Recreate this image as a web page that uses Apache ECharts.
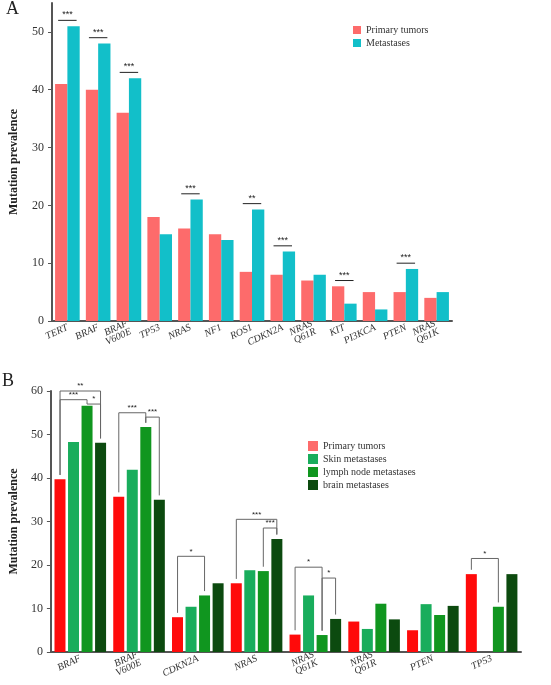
<!DOCTYPE html>
<html><head><meta charset="utf-8">
<script src="https://cdn.jsdelivr.net/npm/echarts@6/dist/echarts.min.js"></script>
<style>html,body{margin:0;background:#fff}#c{width:551px;height:685px}</style>
</head><body><div id="c"></div>
<script>
// panel A
var catsA = ['TERT','BRAF','BRAF\nV600E','TP53','NRAS','NF1','ROS1','CDKN2A','NRAS\nQ61R','KIT','PI3KCA','PTEN','NRAS\nQ61K'];
var primaryA = [41,40,36,18,16,15,8.5,8,7,6,5,5,4];
var metA = [51,48,42,15,21,14,19.3,12,8,3,2,9,5];
// [category index, star label]
var sigA = [[0,'***'],[1,'***'],[2,'***'],[4,'***'],[6,'**'],[7,'***'],[9,'***'],[11,'***']];

// panel B
var catsB = ['BRAF','BRAF\nV600E','CDKN2A','NRAS','NRAS\nQ61K','NRAS\nQ61R','PTEN','TP53'];
var primaryB = [39.7,35.7,8,15.8,4,7,5,17.9];
var skinB = [48.3,41.9,10.4,18.8,13,5.3,11,null];
var lymphB = [56.6,51.7,13,18.6,3.9,11.1,8.5,10.4];
var brainB = [48.1,35,15.8,26,7.6,7.5,10.6,17.9];
// [category, from series, to series, bracket top, label]
var sigB = [[0,0,3,60,'**'],[0,0,2,58,'***'],[0,2,3,57,'*'],[1,0,2,55,'***'],[1,2,3,54,'***'],
  [2,0,2,22,'*'],[3,0,3,30.5,'***'],[3,2,3,28.5,'***'],[4,0,2,19.5,'*'],[4,2,3,17,'*'],[7,0,2,21.5,'*']];

var seriesB = [primaryB, skinB, lymphB, brainB];
var font = 'Liberation Serif';
var barW = 11, step = 13.5;

function axisStyle(){ return {lineStyle:{color:'#555',width:2}}; }

var chart = echarts.init(document.getElementById('c'));
chart.setOption({
  textStyle:{fontFamily:font},
  animation:false,
  graphic:[
    {type:'text',left:6,top:0,style:{text:'A',font:'18px "Liberation Serif"',fill:'#222'}},
    {type:'text',left:2,top:372,style:{text:'B',font:'18px "Liberation Serif"',fill:'#222'}}
  ],
  legend:[
    {gridIndex:0,data:['Primary tumors','Metastases'],left:348,top:20,orient:'vertical',itemWidth:8,itemHeight:8,itemGap:3,
     icon:'rect',textStyle:{fontFamily:font,fontSize:10,color:'#333'}},
    {data:['Primary tumors','Skin metastases','lymph node metastases','brain metastases'],left:303,top:436,orient:'vertical',
     itemWidth:10,itemHeight:10,itemGap:3,icon:'rect',textStyle:{fontFamily:font,fontSize:10,color:'#333'}}
  ],
  grid:[
    {left:52,right:99,top:3,bottom:364},
    {left:43,right:30,top:391,bottom:33}
  ],
  xAxis:[
    {type:'category',gridIndex:0,data:catsA,axisLine:axisStyle(),axisTick:{show:false},
     axisLabel:{rotate:25,fontStyle:'italic',fontSize:10,color:'#333',interval:0,lineHeight:9,margin:6}},
    {type:'category',gridIndex:1,data:catsB,axisLine:axisStyle(),axisTick:{show:false},
     axisLabel:{rotate:25,fontStyle:'italic',fontSize:10,color:'#333',interval:0,lineHeight:9,margin:6}}
  ],
  yAxis:[
    {type:'value',gridIndex:0,min:0,max:55,interval:10,axisLine:{show:true,lineStyle:{color:'#555',width:2}},
     axisTick:{show:true,length:4,lineStyle:{color:'#555'}},splitLine:{show:false},
     axisLabel:{fontSize:12,color:'#333',showMaxLabel:false},name:'Mutation prevalence',nameLocation:'middle',nameGap:32,
     nameTextStyle:{fontWeight:'bold',fontSize:12,color:'#222'}},
    {type:'value',gridIndex:1,min:0,max:60,interval:10,axisLine:{show:true,lineStyle:{color:'#555',width:2}},
     axisTick:{show:true,length:4,lineStyle:{color:'#555'}},splitLine:{show:false},
     axisLabel:{fontSize:12,color:'#333'},name:'Mutation prevalence',nameLocation:'middle',nameGap:25,
     nameTextStyle:{fontWeight:'bold',fontSize:12,color:'#222'}}
  ],
  series:[
    {name:'Primary tumors',type:'bar',xAxisIndex:0,yAxisIndex:0,data:primaryA,barGap:'0%',barCategoryGap:'20%',itemStyle:{color:'#fd6b6b'}},
    {name:'Metastases',type:'bar',xAxisIndex:0,yAxisIndex:0,data:metA,itemStyle:{color:'#12bfc9'}},
    {type:'custom',xAxisIndex:0,yAxisIndex:0,data:sigA.map(function(s){return [s[0],Math.max(primaryA[s[0]],metA[s[0]])+1,s[1]];}),
     renderItem:function(params,api){
       var p = api.coord([api.value(0),api.value(1)]);
       var w = api.size([1,0])[0]*0.3;
       return {type:'group',children:[
         {type:'line',shape:{x1:p[0]-w,y1:p[1],x2:p[0]+w,y2:p[1]},style:{stroke:'#222',lineWidth:1}},
         {type:'text',style:{text:sigA[params.dataIndex][1],x:p[0],y:p[1]-1,align:'center',verticalAlign:'bottom',font:'9px sans-serif',fill:'#222'}}
       ]};
     }},
    {name:'Primary tumors',type:'bar',xAxisIndex:1,yAxisIndex:1,data:primaryB,barWidth:barW,barGap:'23%',itemStyle:{color:'#ff0a0a'}},
    {name:'Skin metastases',type:'bar',xAxisIndex:1,yAxisIndex:1,data:skinB,barWidth:barW,barGap:'23%',itemStyle:{color:'#19ad5c'}},
    {name:'lymph node metastases',type:'bar',xAxisIndex:1,yAxisIndex:1,data:lymphB,barWidth:barW,barGap:'23%',itemStyle:{color:'#10961f'}},
    {name:'brain metastases',type:'bar',xAxisIndex:1,yAxisIndex:1,data:brainB,barWidth:barW,barGap:'23%',itemStyle:{color:'#0c4a0f'}},
    {type:'custom',xAxisIndex:1,yAxisIndex:1,data:sigB.map(function(s){return [s[0],s[3]];}),
     renderItem:function(params,api){
       var s = sigB[params.dataIndex];
       var c = api.coord([s[0],s[3]]);
       var xa = c[0]+(s[1]-1.5)*step, xb = c[0]+(s[2]-1.5)*step;
       var ya = api.coord([s[0],(seriesB[s[1]][s[0]]||0)+1])[1];
       var yb = api.coord([s[0],(seriesB[s[2]][s[0]]||0)+1])[1];
       return {type:'group',children:[
         {type:'polyline',shape:{points:[[xa,ya],[xa,c[1]],[xb,c[1]],[xb,yb]]},style:{stroke:'#666',lineWidth:1,fill:null}},
         {type:'text',style:{text:s[4],x:(xa+xb)/2,y:c[1]-1,align:'center',verticalAlign:'bottom',font:'8px sans-serif',fill:'#222'}}
       ]};
     }}
  ]
});
</script></body></html>
